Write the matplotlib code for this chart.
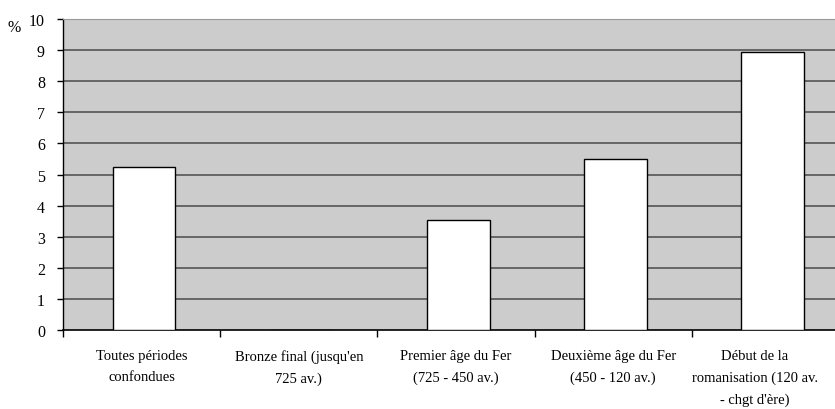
import numpy as np
import matplotlib.pyplot as plt
from matplotlib.ticker import FixedLocator

categories = ["Toutes périodes\nconfondues",
              "Bronze final (jusqu'en\n725 av.)",
              "Premier âge du Fer\n(725 - 450 av.)",
              "Deuxième âge du Fer\n(450 - 120 av.)",
              "Début de la\nromanisation (120 av.\n- chgt d'ère)"]
values = [5.23, 0, 3.53, 5.5, 8.93]
yticks = list(range(0, 11))

plt.rcParams['font.family'] = ['Liberation Serif', 'DejaVu Serif']

fig = plt.figure(figsize=(8.35, 4.10), dpi=100)
ax = fig.add_axes([63/835, 79/410, 786/835, 311/410])
ax.set_facecolor('#cccccc')

x = np.arange(len(categories))
ax.bar(x + 0.015, values, width=0.4, color='white', edgecolor='black', linewidth=1, zorder=3)
for t in yticks[1:-1]:
    ax.axhline(t, color='#555555', linewidth=1.2, zorder=1)

ax.set_xlim(-0.5, len(categories) - 0.5)
ax.set_ylim(0, 10)
ax.set_yticks(yticks)
ax.tick_params(axis='y', length=4, width=1, labelsize=11.5, pad=9)

# labels: last one nudged left so it stays inside the figure
label_pos = x.astype(float)
label_pos[-1] -= 0.1
ax.xaxis.set_major_locator(FixedLocator(np.arange(-0.5, len(categories), 1.0)))
ax.set_xticklabels([])
ax.set_xticks(label_pos, categories, minor=True)
ax.tick_params(axis='x', which='major', length=5, width=1)
ax.tick_params(axis='x', which='minor', length=0, labelsize=10.5, pad=14)
for lab in ax.get_xticklabels(minor=True):
    lab.set_linespacing(1.8)
    lab.set_verticalalignment('top')

ax.spines['top'].set_color('#999999')
ax.spines['right'].set_visible(False)
ax.spines['left'].set_linewidth(1)
ax.spines['bottom'].set_linewidth(1.2)

fig.text(14/835, 1 - 28/410, '%', fontsize=11.5, ha='center', va='center')

fig.savefig('out.png', dpi=100)
